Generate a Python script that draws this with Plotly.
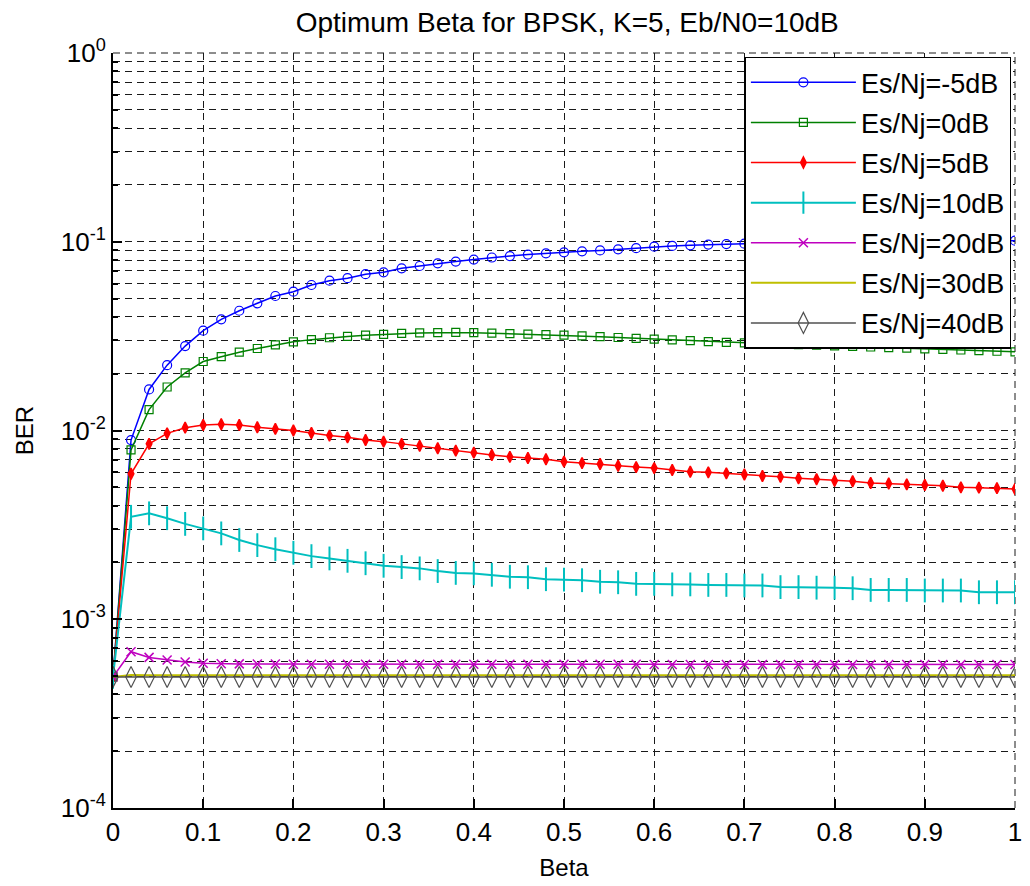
import plotly.graph_objects as go

beta = [0.00, 0.02, 0.04, 0.06, 0.08, 0.10, 0.12, 0.14, 0.16, 0.18,
        0.20, 0.22, 0.24, 0.26, 0.28, 0.30, 0.32, 0.34, 0.36, 0.38,
        0.40, 0.42, 0.44, 0.46, 0.48, 0.50, 0.52, 0.54, 0.56, 0.58,
        0.60, 0.62, 0.64, 0.66, 0.68, 0.70, 0.72, 0.74, 0.76, 0.78,
        0.80, 0.82, 0.84, 0.86, 0.88, 0.90, 0.92, 0.94, 0.96, 0.98, 1.00]

ber_m5 = [4.95e-4, 8.9e-3, 0.0165, 0.0222, 0.0280, 0.0338, 0.0388, 0.0431, 0.0472, 0.0516,
          0.0544, 0.0590, 0.0622, 0.0641, 0.0673, 0.0689, 0.0723, 0.0744, 0.0769, 0.0785,
          0.0805, 0.0825, 0.0840, 0.0855, 0.0868, 0.0878, 0.0890, 0.0900, 0.0912, 0.0925,
          0.0942, 0.0950, 0.0957, 0.0966, 0.0972, 0.0977, 0.0981, 0.0984, 0.0987, 0.0990,
          0.0993, 0.0995, 0.0998, 0.1000, 0.1002, 0.1004, 0.1006, 0.1008, 0.1010, 0.1011, 0.1013]

ber_0 = [4.95e-4, 7.9e-3, 0.0129, 0.0170, 0.0202, 0.0232, 0.0246, 0.0260, 0.0272, 0.0284,
         0.0295, 0.0303, 0.0310, 0.0315, 0.0320, 0.0323, 0.0327, 0.0329, 0.0330, 0.0331,
         0.0330, 0.0328, 0.0326, 0.0324, 0.0322, 0.0320, 0.0317, 0.0314, 0.0311, 0.0308,
         0.0305, 0.0302, 0.0299, 0.0296, 0.0293, 0.0291, 0.0289, 0.0287, 0.0285, 0.0283,
         0.0281, 0.0279, 0.0277, 0.0275, 0.0273, 0.0271, 0.0269, 0.0267, 0.0265, 0.0263, 0.0261]

ber_5 = [4.95e-4, 5.9e-3, 8.5e-3, 9.66e-3, 0.01035, 0.0107, 0.0108, 0.0107, 0.0104, 0.0102,
         0.0100, 0.0097, 0.0094, 0.0092, 0.0089, 0.00873, 0.00849, 0.00829, 0.00805, 0.00782,
         0.00763, 0.00742, 0.00725, 0.00715, 0.00704, 0.00684, 0.00672, 0.00665, 0.00651, 0.00640,
         0.00632, 0.00618, 0.00605, 0.00600, 0.00593, 0.00585, 0.00574, 0.00568, 0.00558, 0.00552,
         0.00542, 0.00538, 0.00527, 0.00524, 0.00518, 0.00514, 0.00510, 0.00500, 0.00498, 0.00495, 0.00490]

ber_10 = [4.95e-4, 3.49e-3, 3.64e-3, 3.43e-3, 3.20e-3, 3.03e-3, 2.85e-3, 2.63e-3, 2.47e-3, 2.35e-3,
          2.25e-3, 2.16e-3, 2.10e-3, 2.04e-3, 1.98e-3, 1.92e-3, 1.89e-3, 1.86e-3, 1.80e-3, 1.76e-3,
          1.75e-3, 1.72e-3, 1.68e-3, 1.67e-3, 1.63e-3, 1.62e-3, 1.61e-3, 1.58e-3, 1.57e-3, 1.54e-3,
          1.54e-3, 1.53e-3, 1.53e-3, 1.52e-3, 1.52e-3, 1.51e-3, 1.51e-3, 1.48e-3, 1.48e-3, 1.47e-3,
          1.47e-3, 1.46e-3, 1.43e-3, 1.43e-3, 1.43e-3, 1.42e-3, 1.42e-3, 1.42e-3, 1.39e-3, 1.39e-3, 1.39e-3]

ber_20 = [4.95e-4, 6.73e-4, 6.28e-4, 6.08e-4, 5.94e-4, 5.85e-4, 5.81e-4, 5.80e-4, 5.79e-4, 5.79e-4,
          5.78e-4, 5.78e-4, 5.78e-4, 5.78e-4, 5.78e-4, 5.78e-4, 5.77e-4, 5.77e-4, 5.77e-4, 5.77e-4,
          5.77e-4, 5.77e-4, 5.77e-4, 5.77e-4, 5.77e-4, 5.77e-4, 5.77e-4, 5.77e-4, 5.77e-4, 5.77e-4,
          5.76e-4, 5.76e-4, 5.76e-4, 5.76e-4, 5.76e-4, 5.76e-4, 5.76e-4, 5.76e-4, 5.76e-4, 5.76e-4,
          5.76e-4, 5.76e-4, 5.76e-4, 5.76e-4, 5.76e-4, 5.76e-4, 5.76e-4, 5.76e-4, 5.76e-4, 5.76e-4, 5.76e-4]

ber_30 = [4.95e-4, 5.06e-4, 5.05e-4, 5.05e-4, 5.05e-4, 5.05e-4, 5.05e-4, 5.05e-4, 5.05e-4, 5.05e-4,
          5.05e-4, 5.05e-4, 5.05e-4, 5.05e-4, 5.05e-4, 5.05e-4, 5.05e-4, 5.05e-4, 5.05e-4, 5.05e-4,
          5.05e-4, 5.05e-4, 5.05e-4, 5.05e-4, 5.05e-4, 5.05e-4, 5.05e-4, 5.05e-4, 5.05e-4, 5.05e-4,
          5.05e-4, 5.05e-4, 5.05e-4, 5.05e-4, 5.05e-4, 5.05e-4, 5.05e-4, 5.05e-4, 5.05e-4, 5.05e-4,
          5.05e-4, 5.05e-4, 5.05e-4, 5.05e-4, 5.05e-4, 5.05e-4, 5.05e-4, 5.05e-4, 5.05e-4, 5.05e-4, 5.05e-4]

ber_40 = [4.95e-4, 4.94e-4, 4.94e-4, 4.94e-4, 4.94e-4, 4.94e-4, 4.94e-4, 4.94e-4, 4.94e-4, 4.94e-4,
          4.94e-4, 4.94e-4, 4.94e-4, 4.94e-4, 4.94e-4, 4.94e-4, 4.94e-4, 4.94e-4, 4.94e-4, 4.94e-4,
          4.94e-4, 4.94e-4, 4.94e-4, 4.94e-4, 4.94e-4, 4.94e-4, 4.94e-4, 4.94e-4, 4.94e-4, 4.94e-4,
          4.94e-4, 4.94e-4, 4.94e-4, 4.94e-4, 4.94e-4, 4.94e-4, 4.94e-4, 4.94e-4, 4.94e-4, 4.94e-4,
          4.94e-4, 4.94e-4, 4.94e-4, 4.94e-4, 4.94e-4, 4.94e-4, 4.94e-4, 4.94e-4, 4.94e-4, 4.94e-4, 4.94e-4]

series_names = ["Es/Nj=-5dB", "Es/Nj=0dB", "Es/Nj=5dB", "Es/Nj=10dB",
                "Es/Nj=20dB", "Es/Nj=30dB", "Es/Nj=40dB"]

y_tickvals = [1e-4, 1e-3, 1e-2, 1e-1, 1e0]
y_ticktext = ["10<sup>-4</sup>", "10<sup>-3</sup>", "10<sup>-2</sup>",
              "10<sup>-1</sup>", "10<sup>0</sup>"]
y_minor_vals = [m * d for d in [1e-4, 1e-3, 1e-2, 1e-1] for m in range(2, 10)]

FONT = "Liberation Sans, Arial, sans-serif"

styles = [
    dict(color="#0000FF", symbol="circle-open", size=9, lw=1.5, mlw=1.2),
    dict(color="#008000", symbol="square-open", size=8, lw=1.5, mlw=1.2),
    dict(color="#FF0000", symbol="diamond-tall", size=8, lw=1.5, mlw=1.5),
    dict(color="#00BFBF", symbol="line-ns-open", size=17, lw=2, mlw=2),
    dict(color="#BF00BF", symbol="x-thin-open", size=9, lw=1.5, mlw=1.5),
    dict(color="#BFBF00", symbol=None, size=0, lw=2, mlw=0),
    dict(color="#505050", symbol="diamond-tall-open", size=15, lw=1.5, mlw=1.2),
]
series = [ber_m5, ber_0, ber_5, ber_10, ber_20, ber_30, ber_40]

fig = go.Figure()
for name, ys, st in zip(series_names, series, styles):
    if st["symbol"] is None:
        fig.add_trace(go.Scatter(x=beta, y=ys, name=name, mode="lines", legendgroup=name,
                                 line=dict(color=st["color"], width=st["lw"])))
    else:
        fig.add_trace(go.Scatter(
            x=beta, y=ys, name=name, mode="lines+markers", legendgroup=name,
            line=dict(color=st["color"], width=st["lw"]),
            marker=dict(symbol=st["symbol"], size=st["size"], color=st["color"],
                        line=dict(color=st["color"], width=st["mlw"]))))

grid_dash = "7px,5px"
grid_col = "#1a1a1a"

# dashed lines at the upper and right ends of the axes (grid at range ends)
for sh in [dict(x0=0, x1=1, y0=1, y1=1), dict(x0=1, x1=1, y0=0, y1=1)]:
    fig.add_shape(type="line", xref="paper", yref="paper", layer="below",
                  line=dict(color=grid_col, width=1, dash=grid_dash), **sh)

fig.update_layout(
    width=1030, height=886,
    margin=dict(l=113, r=8, t=53, b=78),
    paper_bgcolor="white", plot_bgcolor="white",
    font=dict(family=FONT, size=26, color="black"),
    title=dict(text="Optimum Beta for BPSK, K=5, Eb/N0=10dB",
               x=0.5507, xanchor="center", y=0.975, yanchor="middle",
               font=dict(size=28, family=FONT, color="black")),
    showlegend=True,
    legend=dict(x=0.996, xanchor="right", y=0.995, yanchor="top",
                bgcolor="white", bordercolor="black", borderwidth=1.5,
                font=dict(size=27, family=FONT, color="black"),
                itemwidth=105, tracegroupgap=2),
)

fig.update_xaxes(
    range=[0, 1], tickmode="linear", tick0=0, dtick=0.1,
    showgrid=True, gridcolor=grid_col, griddash=grid_dash, gridwidth=1,
    showline=True, linecolor="black", linewidth=2, mirror=False,
    ticks="inside", ticklen=9, tickcolor="black", tickwidth=1.5,
    zeroline=False,
    tickfont=dict(size=26, family=FONT, color="black"),
    title=dict(text="Beta", font=dict(size=24, family=FONT, color="black"), standoff=13),
)

fig.update_yaxes(
    type="log", range=[-4, 0],
    tickmode="array", tickvals=y_tickvals, ticktext=y_ticktext,
    showgrid=True, gridcolor=grid_col, griddash=grid_dash, gridwidth=1,
    showline=True, linecolor="black", linewidth=2, mirror=False,
    ticks="inside", ticklen=9, tickcolor="black", tickwidth=1.5,
    zeroline=False,
    tickfont=dict(size=26, family=FONT, color="black"),
    minor=dict(tickmode="array", tickvals=y_minor_vals, showgrid=True,
               gridcolor=grid_col, griddash=grid_dash, gridwidth=1,
               ticks="inside", ticklen=5, tickcolor="black"),
    title=dict(text="BER", font=dict(size=24, family=FONT, color="black"), standoff=20),
)

fig.write_html("out.html")
